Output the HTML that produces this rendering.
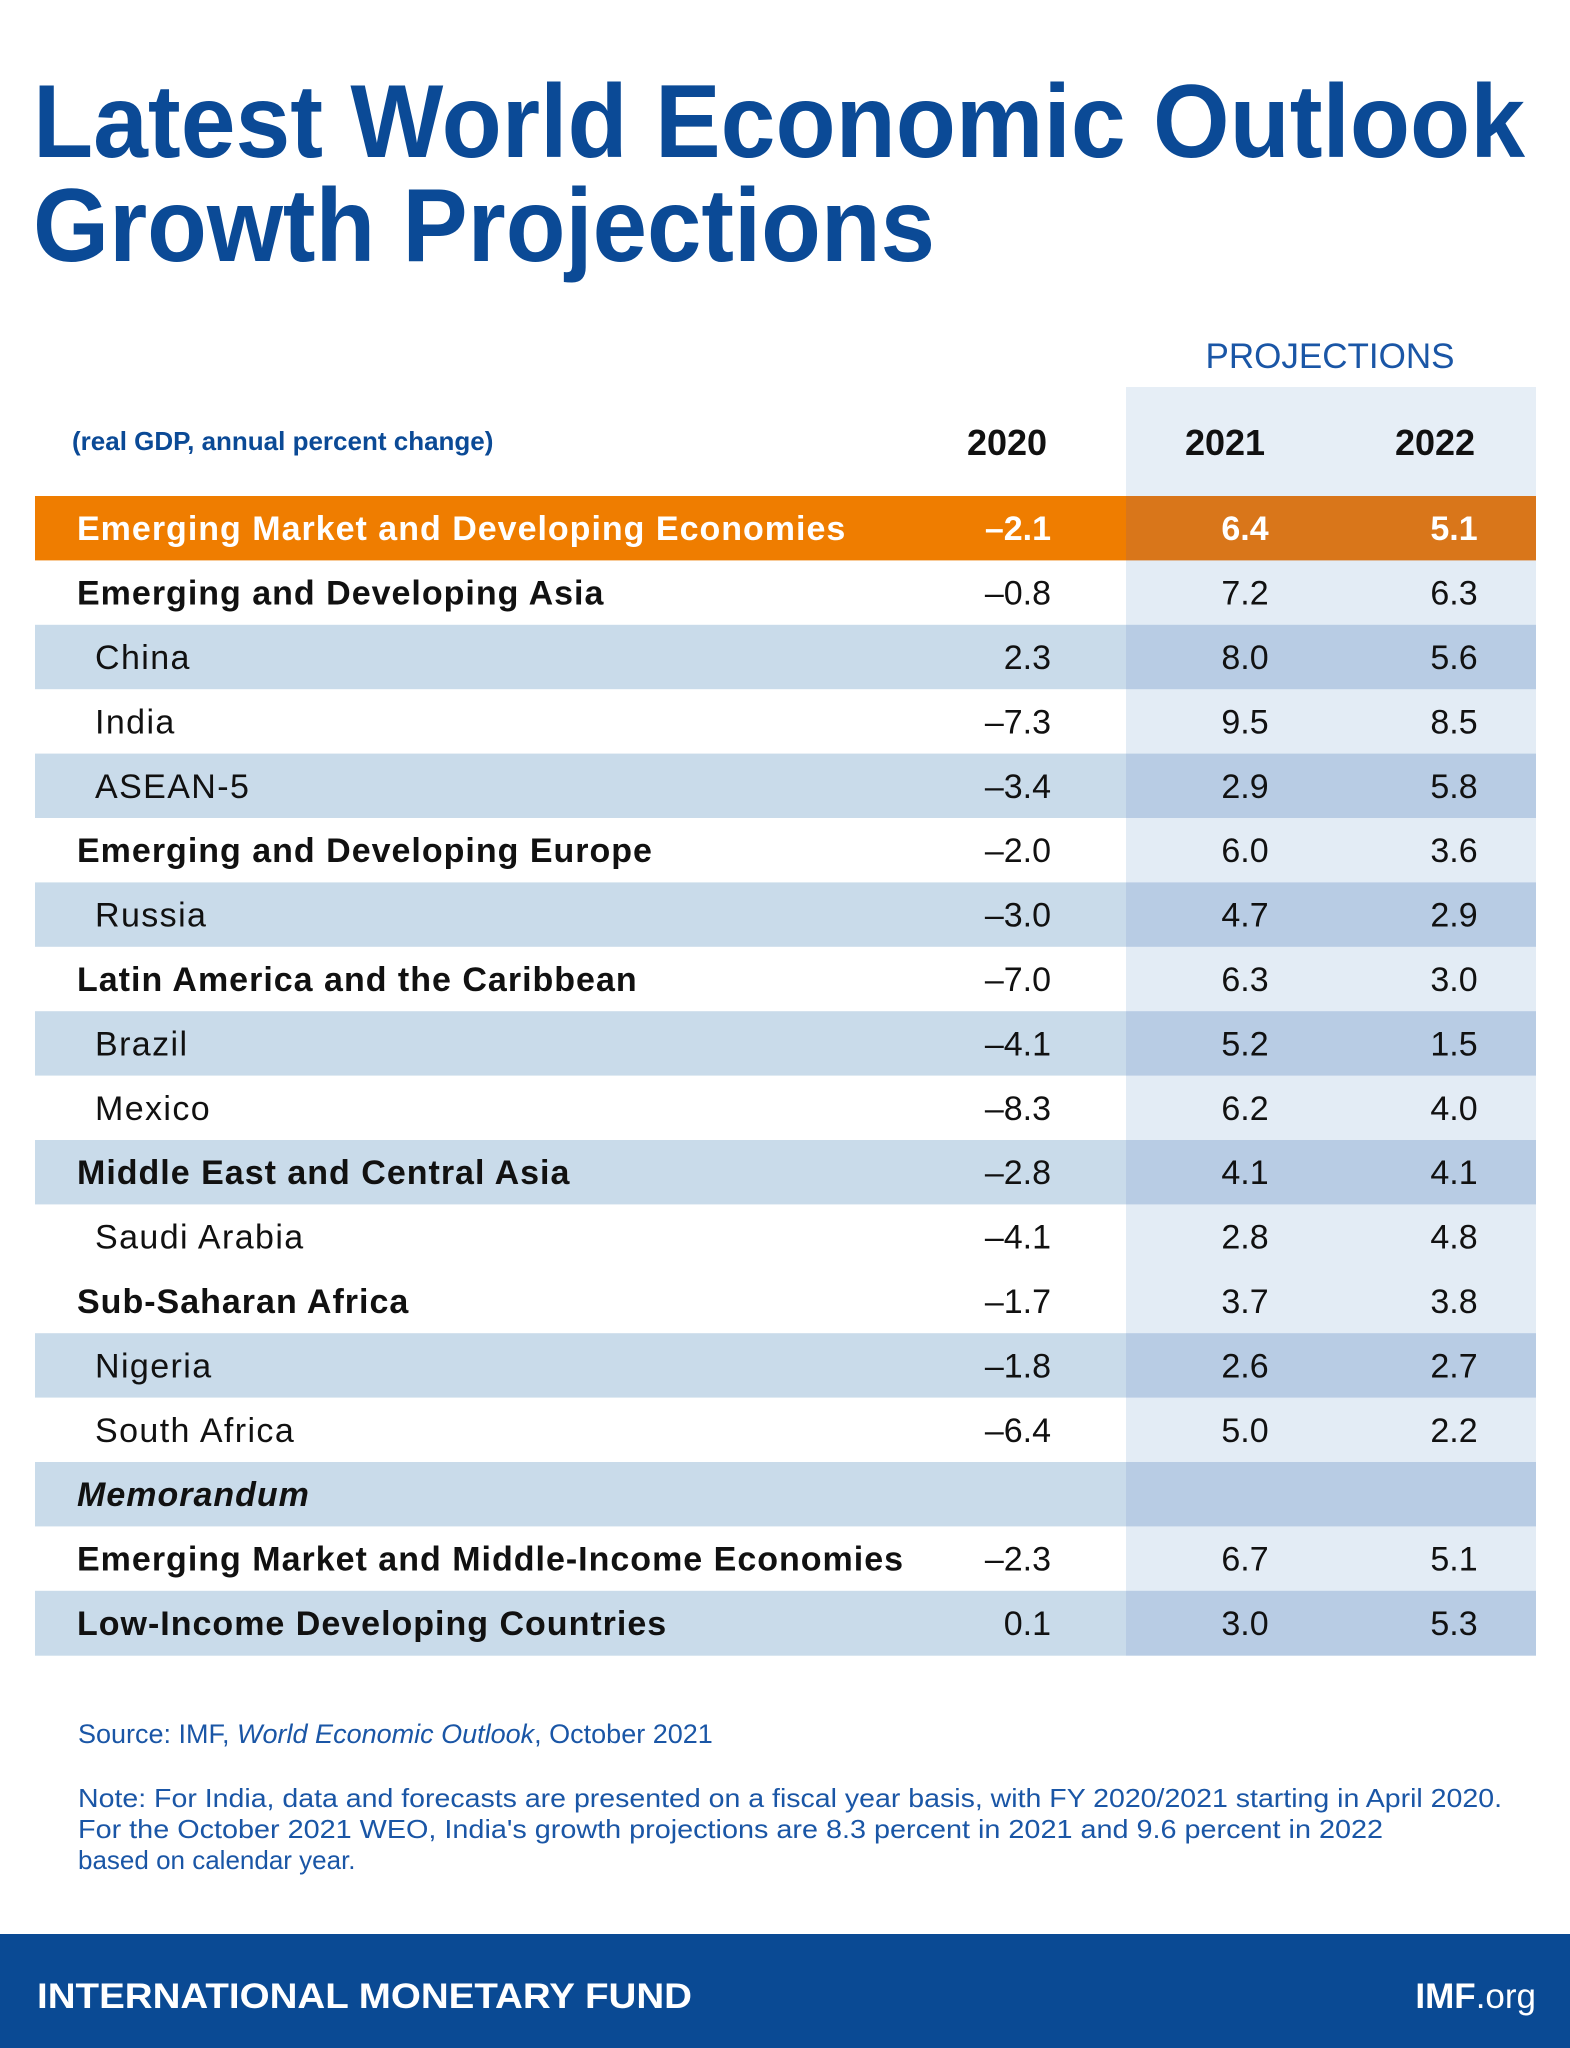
<!DOCTYPE html>
<html><head><meta charset="utf-8"><style>
body{margin:0;background:#fff}
svg{display:block}
</style></head><body>
<svg id="chart" width="1570" height="2048" viewBox="0 0 1570 2048" xmlns="http://www.w3.org/2000/svg" font-family="'Liberation Sans', sans-serif">
<rect width="1570" height="2048" fill="#fff"/>
<g fill="#0b4a96" font-weight="bold">
<text x="33" y="157" font-size="104" textLength="1492" lengthAdjust="spacingAndGlyphs">Latest World Economic Outlook</text>
<text x="33" y="261" font-size="104" textLength="902" lengthAdjust="spacingAndGlyphs">Growth Projections</text>
</g>
<rect x="1126" y="387" width="410" height="109" fill="#e6eef6"/>
<text x="1330" y="368" font-size="35" fill="#1a56a6" text-anchor="middle">PROJECTIONS</text>
<text x="72" y="450" font-size="26" font-weight="bold" fill="#0b4a96">(real GDP, annual percent change)</text>
<g id="rows"></g>
<text x="78" y="1743" font-size="27" fill="#1a56a6">Source: IMF, <tspan font-style="italic">World Economic Outlook</tspan>, October 2021</text>
<g font-size="26" fill="#1a56a6">
<text x="78" y="1807" textLength="1424" lengthAdjust="spacingAndGlyphs">Note: For India, data and forecasts are presented on a fiscal year basis, with FY 2020/2021 starting in April 2020.</text>
<text x="78" y="1838" textLength="1305" lengthAdjust="spacingAndGlyphs">For the October 2021 WEO, India's growth projections are 8.3 percent in 2021 and 9.6 percent in 2022</text>
<text x="78" y="1869">based on calendar year.</text>
</g>
<rect x="0" y="1934" width="1570" height="114" fill="#0a4a94"/>
<text x="37" y="2008" font-size="35" font-weight="bold" fill="#fff" textLength="655" lengthAdjust="spacingAndGlyphs">INTERNATIONAL MONETARY FUND</text>
<text x="1536" y="2008" font-size="35" fill="#fff" text-anchor="end"><tspan font-weight="bold">IMF</tspan>.org</text>
</svg>
<script>
const labels=["Emerging Market and Developing Economies","Emerging and Developing Asia","China","India","ASEAN-5","Emerging and Developing Europe","Russia","Latin America and the Caribbean","Brazil","Mexico","Middle East and Central Asia","Saudi Arabia","Sub-Saharan Africa","Nigeria","South Africa","Memorandum","Emerging Market and Middle-Income Economies","Low-Income Developing Countries"];
const v2020=["–2.1","–0.8","2.3","–7.3","–3.4","–2.0","–3.0","–7.0","–4.1","–8.3","–2.8","–4.1","–1.7","–1.8","–6.4","","–2.3","0.1"];
const v2021=["6.4","7.2","8.0","9.5","2.9","6.0","4.7","6.3","5.2","6.2","4.1","2.8","3.7","2.6","5.0","","6.7","3.0"];
const v2022=["5.1","6.3","5.6","8.5","5.8","3.6","2.9","3.0","1.5","4.0","4.1","4.8","3.8","2.7","2.2","","5.1","5.3"];
const years=["2020","2021","2022"];
const kinds=["top","parent","child","child","child","parent","child","parent","child","child","parent","child","parent","child","child","memo","parent","parent"];
const shades=[2,0,1,0,1,0,1,0,1,0,1,0,0,1,0,1,0,1];
const NS="http://www.w3.org/2000/svg";
const svg=document.getElementById('chart');
const g=document.getElementById('rows');
const top0=496,rh=64.4,x0=35,x1=1536,px=1126;
const colX=[1051,1245,1454];
function mk(tag,attrs,parent){const e=document.createElementNS(NS,tag);for(const k in attrs)e.setAttribute(k,attrs[k]);parent.appendChild(e);return e;}
years.forEach((y,i)=>{
  const t=mk('text',{x:[1007,1225,1435][i],y:455,'font-size':36,'font-weight':'bold',fill:'#111','text-anchor':'middle'},svg);
  
  
  t.textContent=y;
});
labels.forEach((lab,i)=>{
  const y=top0+i*rh;
  const s=shades[i];
  const leftC=s===2?'#ef7d00':(s===1?'#c9dbea':'#ffffff');
  const rightC=s===2?'#d9761a':(s===1?'#b8cce4':'#e3ecf5');
  const row=mk('g',{},g);
  
  
  mk('rect',{x:x0,y:y,width:px-x0,height:rh+0.5,fill:leftC},row);
  mk('rect',{x:px,y:y,width:x1-px,height:rh+0.5,fill:rightC},row);
  const k=kinds[i];
  const col=k==='top'?'#fff':'#111';
  const bold=(k!=='child');
  const t=mk('text',{x:k==='child'?95:77,y:y+rh/2+12,'font-size':34,'letter-spacing':bold?1.0:1.4,fill:col,'font-weight':bold?'bold':'normal','font-style':k==='memo'?'italic':'normal'},row);
  
  
  t.textContent=lab;
  const vals=[v2020[i],v2021[i],v2022[i]];
  vals.forEach((v,j)=>{
    if(!v)return;
    const n=mk('text',{x:colX[j],y:y+rh/2+12,'font-size':34,fill:col,'font-weight':k==='top'?'bold':'normal','text-anchor':j===0?'end':'middle'},row);
    
    
    n.textContent=v;
  });
});
</script>
</body></html>
